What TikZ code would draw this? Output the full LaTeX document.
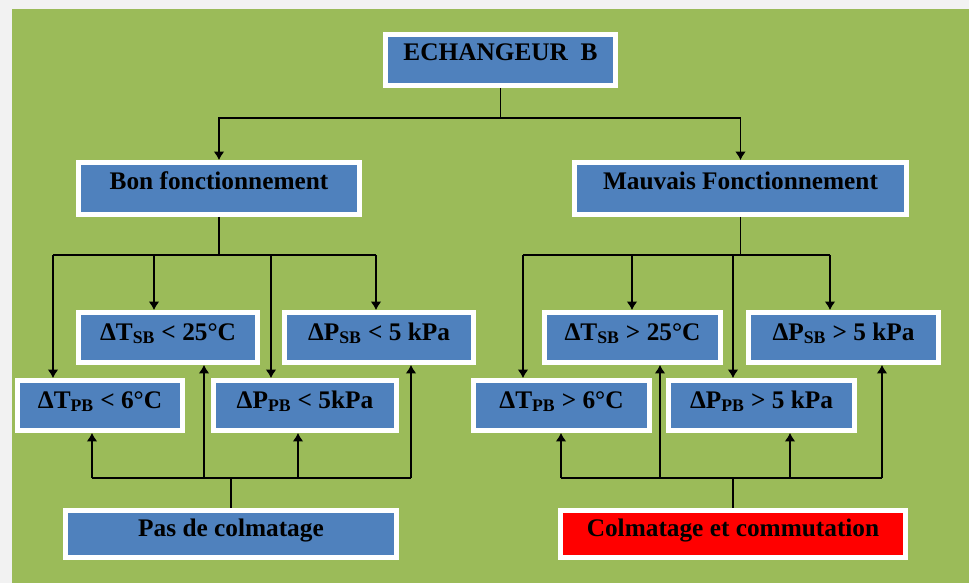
\documentclass[tikz,border=0pt]{standalone}
\usepackage{fontspec}
\setmainfont{Liberation Serif}
\usepackage{tikz}
\usetikzlibrary{shadows,arrows.meta}
\usepackage{xcolor}

\definecolor{leaf}{RGB}{155,187,89}
\definecolor{boxblue}{RGB}{79,129,189}
\definecolor{paper}{RGB}{242,242,242}

\begin{document}
\begin{tikzpicture}[x=0.025cm, y=-0.025cm, >={Latex[length=6pt,width=7.5pt]}, line width=0.8pt,
    box/.style={draw=white, line width=3.5pt, fill=boxblue, inner sep=0pt,
        font=\fontsize{18}{20}\selectfont\bfseries, text height=0.7em, text depth=0.3em,
        drop shadow={shadow xshift=1.5pt, shadow yshift=-1.5pt, fill=black!45, opacity=0.6}},
    head/.style={box, text depth=0.6em},
    alarm/.style={box, fill=red}]
    % Background
    \fill[paper] (0,0) rectangle (969,583);
    \fill[leaf] (12,9) rectangle (969,583);
    \useasboundingbox (0,0) rectangle (969,583);

    % Top level
    \node[head, minimum width=5.75cm, minimum height=1.28cm] (ech) at (500.5,60) {ECHANGEUR\ \ B};
    \node[head, minimum width=7.03cm, minimum height=1.3cm] (bon) at (219,188.5) {Bon fonctionnement};
    \node[head, minimum width=8.3cm, minimum height=1.3cm] (mau) at (740.5,188.5) {Mauvais Fonctionnement};

    % Conditions, left
    \node[box, minimum width=4.48cm, minimum height=1.25cm] (tsbl) at (168,337.5) {ΔT\textsubscript{SB} < 25°C};
    \node[box, minimum width=4.73cm, minimum height=1.25cm] (psbl) at (379,337.5) {ΔP\textsubscript{SB} < 5 kPa};
    \node[box, minimum width=4.13cm, minimum height=1.25cm] (tpbl) at (100,405.5) {ΔT\textsubscript{PB} < 6°C};
    \node[box, minimum width=4.58cm, minimum height=1.25cm] (ppbl) at (305,405.5) {ΔP\textsubscript{PB} < 5kPa};

    % Conditions, right
    \node[box, minimum width=4.4cm, minimum height=1.25cm] (tsbh) at (632.5,337.5) {ΔT\textsubscript{SB} > 25°C};
    \node[box, minimum width=4.75cm, minimum height=1.25cm] (psbh) at (843.5,337.5) {ΔP\textsubscript{SB} > 5 kPa};
    \node[box, minimum width=4.4cm, minimum height=1.25cm] (tpbh) at (561.5,405.5) {ΔT\textsubscript{PB} > 6°C};
    \node[box, minimum width=4.65cm, minimum height=1.25cm] (ppbh) at (761.5,405.5) {ΔP\textsubscript{PB} > 5 kPa};

    % Results
    \node[box, minimum width=8.28cm, minimum height=1.18cm] (pas) at (231,534) {Pas de colmatage};
    \node[alarm, minimum width=8.63cm, minimum height=1.18cm] (col) at (733,534) {Colmatage et commutation};

    % Junctions
    \coordinate (top) at (500.5,118);
    \coordinate (a1) at (53,255);  \coordinate (a2) at (154,255);
    \coordinate (a3) at (271,255); \coordinate (a4) at (376,255);
    \coordinate (b1) at (523,255); \coordinate (b2) at (632,255);
    \coordinate (b3) at (733,255); \coordinate (b4) at (830,255);
    \coordinate (c1) at (92,478);  \coordinate (c2) at (204,478);
    \coordinate (c3) at (298,478); \coordinate (c4) at (411,478);
    \coordinate (d1) at (561,478); \coordinate (d2) at (660,478);
    \coordinate (d3) at (790,478); \coordinate (d4) at (882,478);

    % Arrows from the exchanger
    \draw (ech) -- (top);
    \draw[->] (top) -| (bon.north);
    \draw[->] (top) -| (mau.north);

    % Arrows down to the conditions
    \draw (bon) -- (bon |- a1);
    \draw (a1) -- (a4);
    \draw[->] (a1) -- (a1 |- tpbl.north);
    \draw[->] (a2) -- (a2 |- tsbl.north);
    \draw[->] (a3) -- (a3 |- ppbl.north);
    \draw[->] (a4) -- (a4 |- psbl.north);

    \draw (mau) -- (mau |- b1);
    \draw (b1) -- (b4);
    \draw[->] (b1) -- (b1 |- tpbh.north);
    \draw[->] (b2) -- (b2 |- tsbh.north);
    \draw[->] (b3) -- (b3 |- ppbh.north);
    \draw[->] (b4) -- (b4 |- psbh.north);

    % Arrows up from the results
    \draw (pas) -- (pas |- c1);
    \draw (c1) -- (c4);
    \draw[->] (c1) -- (c1 |- tpbl.south);
    \draw[->] (c2) -- (c2 |- tsbl.south);
    \draw[->] (c3) -- (c3 |- ppbl.south);
    \draw[->] (c4) -- (c4 |- psbl.south);

    \draw (col) -- (col |- d1);
    \draw (d1) -- (d4);
    \draw[->] (d1) -- (d1 |- tpbh.south);
    \draw[->] (d2) -- (d2 |- tsbh.south);
    \draw[->] (d3) -- (d3 |- ppbh.south);
    \draw[->] (d4) -- (d4 |- psbh.south);
\end{tikzpicture}
\end{document}
